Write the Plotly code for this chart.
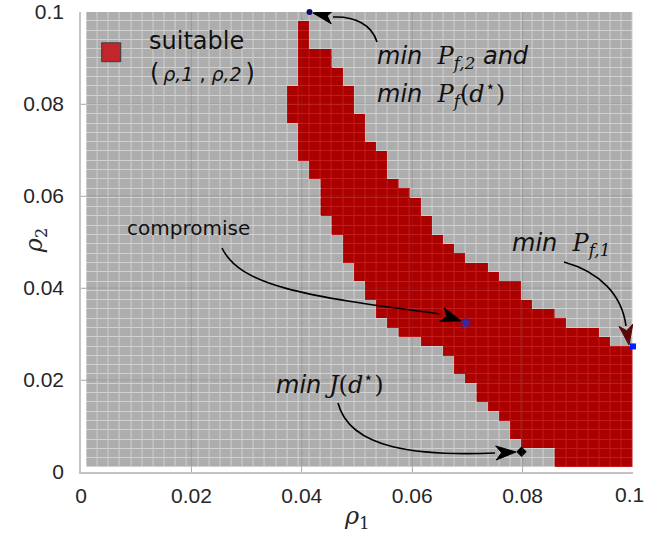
import numpy as np
import plotly.graph_objects as go

# 49 x 49 design grid over rho1, rho2 in [0.001, 0.1]
rho_edges = np.linspace(0.001, 0.1, 50)
n_cells = len(rho_edges) - 1

# suitable (rho1, rho2) cells: for each column from first_col on,
# the lowest and highest suitable row index
first_col = 18
row_lo = [37, 33, 31, 27, 25, 22, 20, 18, 16, 15, 14, 14, 13, 13, 12, 10,
          9, 7, 6, 5, 3, 2, 2, 2, 0, 0, 0, 0, 0, 0, 0]
row_hi = [40, 47, 44, 44, 42, 40, 37, 34, 33, 30, 29, 28, 26, 24, 23, 22,
          21, 21, 20, 19, 19, 17, 16, 16, 15, 14, 14, 14, 13, 12, 12]

# optimal designs
opt_names = ["min Pf2", "compromise", "min Pf1", "min J"]
opt_rho1 = [0.0414, 0.0697, 0.1, 0.0798]
opt_rho2 = [0.1, 0.0324, 0.0273, 0.0044]

tick_vals = [0, 0.02, 0.04, 0.06, 0.08, 0.1]
tick_text = ["0", "0.02", "0.04", "0.06", "0.08", "0.1"]

W, H = 646, 543
MARGIN = dict(l=81, r=13, t=12, b=71)
SX = (W - MARGIN["l"] - MARGIN["r"]) / 0.1   # px per unit rho1
SY = (H - MARGIN["t"] - MARGIN["b"]) / 0.1   # px per unit rho2

mask = np.zeros((n_cells, n_cells))
for k, (lo, hi) in enumerate(zip(row_lo, row_hi)):
    mask[lo:hi + 1, first_col + k] = 1

fig = go.Figure()
# cell borders (seen through the gaps of the layer above)
fig.add_trace(go.Heatmap(
    z=mask, x=rho_edges, y=rho_edges, zmin=0, zmax=1,
    colorscale=[[0, "#d0d0d0"], [1, "#c41c1c"]],
    showscale=False, hoverinfo="skip"))
fig.add_trace(go.Heatmap(
    z=mask, x=rho_edges, y=rho_edges, zmin=0, zmax=1,
    colorscale=[[0, "#adadad"], [1, "#aa0000"]],
    xgap=1, ygap=1, showscale=False, hoverinfo="skip"))

# optimum markers
marker_styles = [
    dict(symbol="circle", size=6, color="#0c0c70"),
    dict(symbol="star", size=10, color="#2a2ab8"),
    dict(symbol="square", size=6, color="#0020ff"),
    dict(symbol="diamond", size=8, color="#000000"),
]
for name, x, y, st in zip(opt_names, opt_rho1, opt_rho2, marker_styles):
    fig.add_trace(go.Scatter(x=[x], y=[y], mode="markers", name=name,
                             marker=dict(line=dict(width=0), **st),
                             cliponaxis=False, showlegend=False,
                             hoverinfo="skip"))

shapes = []

# faint major grid drawn over the cells
for v in tick_vals[1:-1]:
    shapes.append(dict(type="line", xref="x", yref="paper", x0=v, x1=v,
                       y0=0, y1=1, layer="above",
                       line=dict(color="rgba(90,90,90,0.22)", width=1)))
    shapes.append(dict(type="line", xref="paper", yref="y", x0=0, x1=1,
                       y0=v, y1=v, layer="above",
                       line=dict(color="rgba(90,90,90,0.22)", width=1)))

# curved callout arrows: cubic Bezier (P0, P1, P2, P3) and head tip
arrows = [
    ([(0.05362, 0.09348), (0.05272, 0.09717), (0.04964, 0.09913),
      (0.04565, 0.09891)], (0.04203, 0.09978), "#000000"),
    ([(0.02554, 0.04870), (0.02880, 0.04065), (0.03967, 0.03826),
      (0.06504, 0.03435)], (0.06884, 0.03283), "#000000"),
    ([(0.08750, 0.04565), (0.09402, 0.04348), (0.09801, 0.03848),
      (0.09873, 0.03174)], (0.09928, 0.02761), "#5a0808"),
    ([(0.04656, 0.01500), (0.04873, 0.00478), (0.06141, 0.00348),
      (0.07500, 0.00413)], (0.07880, 0.00435), "#000000"),
]


def head_path(base, tip, length=20.0, half=7.0, notch=0.72):
    dx = (tip[0] - base[0]) * SX
    dy = (tip[1] - base[1]) * SY
    n = np.hypot(dx, dy)
    ux, uy = dx / n, dy / n
    px, py = -uy, ux

    def pt(a, b):
        return (tip[0] + (a * ux + b * px) / SX, tip[1] + (a * uy + b * py) / SY)

    pts = [pt(0, 0), pt(-length, half), pt(-length * notch, 0), pt(-length, -half)]
    return "M " + " L ".join(f"{x:.6f},{y:.6f}" for x, y in pts) + " Z"


for (p0, p1, p2, p3), tip, hc in arrows:
    path = (f"M {p0[0]},{p0[1]} C {p1[0]},{p1[1]} {p2[0]},{p2[1]} "
            f"{p3[0]},{p3[1]}")
    shapes.append(dict(type="path", path=path, xref="x", yref="y",
                       layer="above", line=dict(color="#000000", width=1.6)))
    shapes.append(dict(type="path", path=head_path(p3, tip), xref="x",
                       yref="y", layer="above", fillcolor=hc,
                       line=dict(color=hc, width=1)))

# legend swatch
shapes.append(dict(type="rect", xref="x", yref="y", x0=0.00375, x1=0.0072,
                   y0=0.0892, y1=0.0933, layer="above", fillcolor="#c0262c",
                   line=dict(color="#3c3c3c", width=1)))

SERIF = "font-family:'DejaVu Serif'"
big = dict(family="DejaVu Sans", size=24, color="#111111")
mid = dict(family="DejaVu Sans", size=20, color="#111111")
annotations = [
    dict(x=0.0119, y=0.0938, text="suitable", font=big),
    dict(x=0.0121, y=0.0868, font=big,
         text="(<span style=\"font-size:19px\">\u2009<i>ρ,1</i> , "
              "<i>ρ,2</i>\u2009</span>)"),
    dict(x=0.0533, y=0.0902, font=big,
         text=f"<i>min</i>  <span style=\"{SERIF}\"><i>P</i><sub><i>f,2</i></sub></span> <i>and</i>"),
    dict(x=0.0533, y=0.0822, font=big,
         text=f"<i>min</i>  <span style=\"{SERIF}\"><i>P</i><sub><i>f</i></sub>(<i>d</i><sup>⋆</sup>)</span>"),
    dict(x=0.0079, y=0.0530, text="compromise", font=mid),
    dict(x=0.0778, y=0.0494, font=big,
         text=f"<i>min</i>  <span style=\"{SERIF}\"><i>P</i><sub><i>f,1</i></sub></span>"),
    dict(x=0.0349, y=0.0193, font=big,
         text=f"<i>min</i> <span style=\"{SERIF}\"><i>J</i>(<i>d</i><sup>⋆</sup>)</span>"),
]
for a in annotations:
    a.update(xref="x", yref="y", xanchor="left", yanchor="middle",
             showarrow=False)

tick_font = dict(family="Liberation Sans", size=21, color="#262626")
title_font = dict(family="DejaVu Serif", size=24, color="#262626")
annotations += [
    dict(text="<i>ρ</i><sub>1</sub>", xref="paper", yref="paper",
         x=0.5, y=-0.098, xanchor="center", yanchor="middle",
         showarrow=False, font=title_font),
    dict(text="<i>ρ</i><sub>2</sub>", xref="paper", yref="paper",
         x=-0.083, y=0.504, xanchor="center", yanchor="middle",
         textangle=-90, showarrow=False, font=title_font),
    # last rho1 tick label, kept inside the page edge
    dict(text=tick_text[-1], xref="x", yref="paper", x=tick_vals[-1],
         y=0, xanchor="right", yanchor="top", xshift=13, yshift=-9,
         showarrow=False, font=tick_font),
]

axis_common = dict(
    range=[0, 0.1], tickvals=tick_vals,
    showline=True, linecolor="#c4c4c4", linewidth=1.5,
    ticks="inside", ticklen=5, tickcolor="#c4c4c4", tickwidth=1,
    showgrid=False, zeroline=False, automargin=False,
    tickfont=tick_font,
)

fig.update_layout(
    width=W, height=H, margin=MARGIN,
    paper_bgcolor="white", plot_bgcolor="white",
    shapes=shapes, annotations=annotations,
    xaxis=dict(**axis_common, ticktext=tick_text[:-1] + [""],
               ticklabelstandoff=4),
    yaxis=dict(**axis_common, ticktext=tick_text, ticklabelstandoff=11),
    showlegend=False,
)

fig.write_html("out.html")
